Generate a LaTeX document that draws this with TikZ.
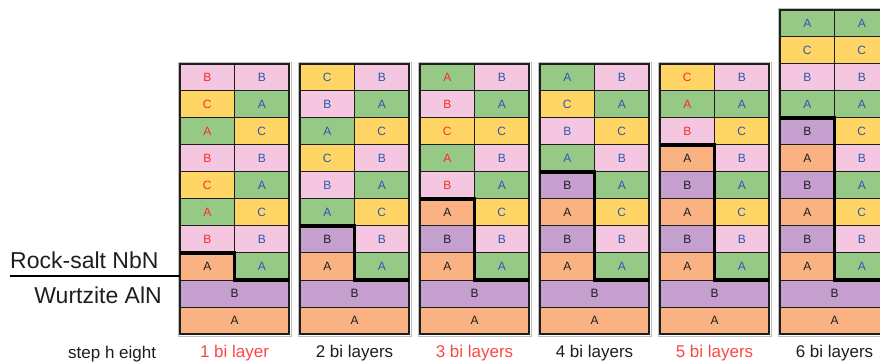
\documentclass[tikz,border=0pt]{standalone}
\usepackage{fontspec}
\setmainfont{Liberation Sans}
\definecolor{gA}{RGB}{151,201,134}
\definecolor{pB}{RGB}{244,198,224}
\definecolor{yC}{RGB}{255,214,102}
\definecolor{oA}{RGB}{250,178,131}
\definecolor{vB}{RGB}{197,160,206}
\definecolor{tRed}{RGB}{255,40,40}
\definecolor{tBlue}{RGB}{40,90,180}
\definecolor{tBlk}{RGB}{30,30,30}
\definecolor{labRed}{RGB}{255,70,70}
\newcommand\mkcol[6]{%
  \node[wA,wide,tk] (c#1S1) at (#2,307) {A};
  \node[wB,wide,tk] (c#1S2) at (#2,280) {B};
  \foreach \r/\s/\t/\l in {#3} {\node[\s,\t] (c#1L\r) at (#2,{334-27*\r}) {\l};}
  \foreach \r/\s/\l in {#4} {\node[\s,tb] (c#1R\r) at ({#2+54.5},{334-27*\r}) {\l};}
  \draw[outer] (c#1S1.south west) rectangle (c#1R#6.north east);
  \draw[shade line] ([xshift=-2pt,yshift=-2pt]c#1S1.south west) rectangle ([xshift=2pt,yshift=2pt]c#1R#6.north east);
  \draw[iface] (c#1L#5.north west) -- (c#1L#5.north east) -- (c#1L3.south east) -- (c#1R3.south east);
}
\begin{document}
\begin{tikzpicture}[x=1pt,y=-1pt,
  cell/.style={draw=tBlk, line width=1pt, minimum width=54.5pt, minimum height=27pt,
    inner sep=0pt, outer sep=0pt, anchor=north west, font=\fontsize{12}{13}\selectfont},
  wide/.style={minimum width=109pt},
  cA/.style={cell, fill=gA}, cB/.style={cell, fill=pB}, cC/.style={cell, fill=yC},
  wA/.style={cell, fill=oA}, wB/.style={cell, fill=vB},
  tr/.style={text=tRed}, tb/.style={text=tBlue}, tk/.style={text=tBlk},
  outer/.style={draw=tBlk, line width=1.3pt},
  shade line/.style={draw=black!25, line width=0.6pt},
  iface/.style={draw=black, line width=3.2pt, line join=miter},
  lab/.style={anchor=base, font=\fontsize{17}{18}\selectfont, inner sep=0pt},
  big/.style={font=\fontsize{23}{25}\selectfont, inner sep=0pt, text=tBlk}]
\useasboundingbox (0,0) rectangle (880,363);
\clip (0,0) rectangle (880,363);
\mkcol{1}{180}{3/wA/tk/A,4/cB/tr/B,5/cA/tr/A,6/cC/tr/C,7/cB/tr/B,8/cA/tr/A,9/cC/tr/C,10/cB/tr/B}
  {3/cA/A,4/cB/B,5/cC/C,6/cA/A,7/cB/B,8/cC/C,9/cA/A,10/cB/B}{3}{10}
\mkcol{2}{300}{3/wA/tk/A,4/wB/tk/B,5/cA/tb/A,6/cB/tb/B,7/cC/tb/C,8/cA/tb/A,9/cB/tb/B,10/cC/tb/C}
  {3/cA/A,4/cB/B,5/cC/C,6/cA/A,7/cB/B,8/cC/C,9/cA/A,10/cB/B}{4}{10}
\mkcol{3}{420}{3/wA/tk/A,4/wB/tk/B,5/wA/tk/A,6/cB/tr/B,7/cA/tr/A,8/cC/tr/C,9/cB/tr/B,10/cA/tr/A}
  {3/cA/A,4/cB/B,5/cC/C,6/cA/A,7/cB/B,8/cC/C,9/cA/A,10/cB/B}{5}{10}
\mkcol{4}{540}{3/wA/tk/A,4/wB/tk/B,5/wA/tk/A,6/wB/tk/B,7/cA/tb/A,8/cB/tb/B,9/cC/tb/C,10/cA/tb/A}
  {3/cA/A,4/cB/B,5/cC/C,6/cA/A,7/cB/B,8/cC/C,9/cA/A,10/cB/B}{6}{10}
\mkcol{5}{660}{3/wA/tk/A,4/wB/tk/B,5/wA/tk/A,6/wB/tk/B,7/wA/tk/A,8/cB/tr/B,9/cA/tr/A,10/cC/tr/C}
  {3/cA/A,4/cB/B,5/cC/C,6/cA/A,7/cB/B,8/cC/C,9/cA/A,10/cB/B}{7}{10}
\mkcol{6}{780}{3/wA/tk/A,4/wB/tk/B,5/wA/tk/A,6/wB/tk/B,7/wA/tk/A,8/wB/tk/B,9/cA/tb/A,10/cB/tb/B,11/cC/tb/C,12/cA/tb/A}
  {3/cA/A,4/cB/B,5/cC/C,6/cA/A,7/cB/B,8/cC/C,9/cA/A,10/cB/B,11/cC/C,12/cA/A}{8}{12}
% interface line and phase labels
\coordinate (lineL) at (10,276);
\draw[line width=2.8pt, black] (lineL) -- (lineL -| c1S2.west);
\node[big, anchor=base west] (rs) at (10,269) {Rock-salt NbN};
\node[big, anchor=base east] (wz) at (162,303) {Wurtzite AlN};
% bottom labels
\node[lab, anchor=base west, text=tBlk] (sh) at (68,358) {step h eight};
\node[lab, text=labRed] (l1) at (c1S1.south |- 0,357) {1 bi layer};
\node[lab, text=tBlk] (l2) at (c2S1.south |- 0,357) {2 bi layers};
\node[lab, text=labRed] (l3) at (c3S1.south |- 0,357) {3 bi layers};
\node[lab, text=tBlk] (l4) at (c4S1.south |- 0,357) {4 bi layers};
\node[lab, text=labRed] (l5) at (c5S1.south |- 0,357) {5 bi layers};
\node[lab, text=tBlk] (l6) at (c6S1.south |- 0,357) {6 bi layers};
\end{tikzpicture}
\end{document}
